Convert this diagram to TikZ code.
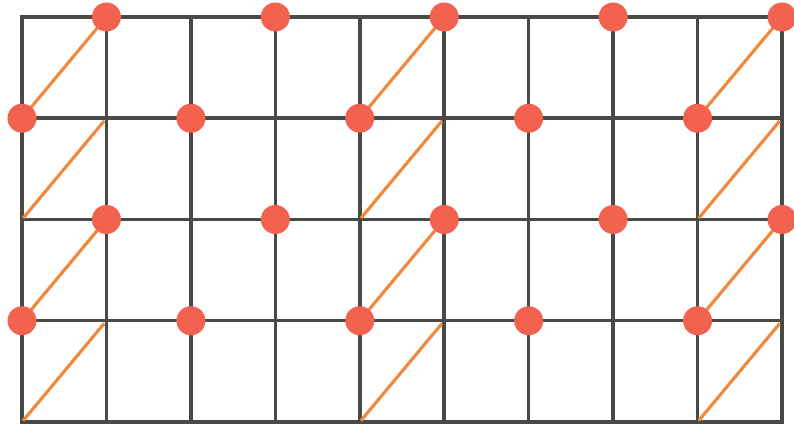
\documentclass[tikz,border=0pt]{standalone}
\usepackage{xcolor}
\usepackage{tikz}
\usetikzlibrary{positioning}

\definecolor{gridgray}{RGB}{72,74,70}
\definecolor{dotred}{RGB}{242,98,78}
\definecolor{diagorange}{RGB}{240,136,62}

\begin{document}
\begin{tikzpicture}[
    gridline/.style={draw=gridgray, line width=2pt, line cap=rect},
    diag/.style={draw=diagorange, line width=1.8pt, shorten <=1pt, shorten >=2pt},
    dot/.style={circle, fill=dotred, inner sep=0pt, minimum size=0.58cm},
]
\useasboundingbox (-0.44,-0.06) rectangle (15.44,8.44);

% lattice points
\foreach \i in {0,...,9}
  \foreach \j in {0,...,4}
    \coordinate (p\i\j) at (\i*1.6889, \j*2.025);

% grid
\foreach \j in {0,...,4}
  \draw[gridline] (p0\j) -- (p9\j);
\foreach \i in {0,...,9}
  \draw[gridline] (p\i0) -- (p\i4);

% diagonals
\foreach \i/\k in {0/1,4/5,8/9}
  \foreach \j/\l in {0/1,1/2,2/3,3/4}
    \draw[diag] (p\i\j) -- (p\k\l);

% dots
\foreach \i in {1,3,5,7,9} {
  \node[dot] (d\i4) at (p\i4) {};
  \node[dot] (d\i2) at (p\i2) {};
}
\foreach \i in {0,2,4,6,8} {
  \node[dot] (d\i3) at (p\i3) {};
  \node[dot] (d\i1) at (p\i1) {};
}

\end{tikzpicture}
\end{document}
